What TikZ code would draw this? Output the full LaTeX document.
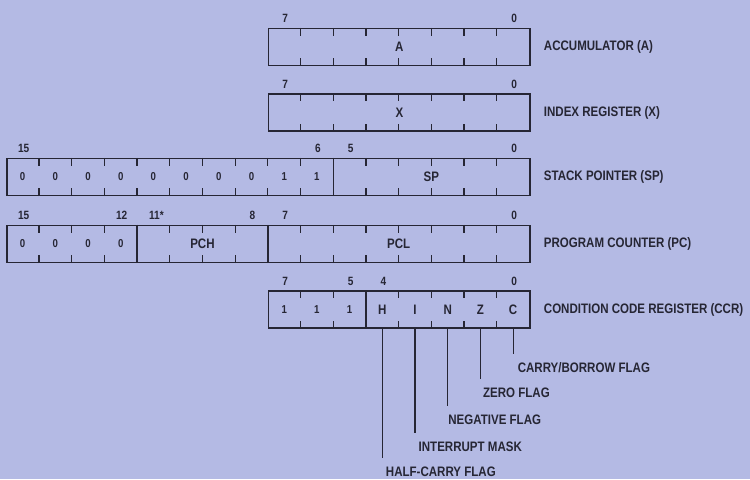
\documentclass[tikz,border=0pt]{standalone}
\usepackage{fontspec}
\setmainfont{Liberation Sans}[FakeStretch=0.84]
\usepackage{xcolor}
\usetikzlibrary{positioning,calc}
\definecolor{bgBlue}{RGB}{180,186,228}
\definecolor{ink}{RGB}{38,38,52}
\newcommand{\celw}{32.7}

\begin{document}
\begin{tikzpicture}[x=0.75pt,y=-0.75pt,font=\bfseries\fontsize{10.3}{12}\selectfont,color=ink,
  reg8/.style={draw, line width=1.1pt, minimum width=196.2pt, minimum height=27.75pt, inner sep=0pt},
  reg16/.style={reg8, minimum width=392.4pt},
  divider/.style={line width=1.1pt},
  tick/.style={line width=0.9pt},
  bitno/.style={font=\bfseries\fontsize{9}{10}\selectfont, inner sep=0pt},
  cell/.style={font=\bfseries\fontsize{8.6}{10}\selectfont, inner sep=0pt},
  side/.style={inner sep=0pt, outer sep=0pt},
  flaglab/.style={anchor=west, inner sep=0pt, outer sep=6.5pt, text height=7.6pt, text depth=0pt}]
\fill[bgBlue] (0,0) rectangle (750,479);
\useasboundingbox (0,0) rectangle (750,479);
% the five registers
\node[reg8]  (acc) at (399.4,47)    {A};
\node[reg8]  (idx) at (399.4,112.5) {X};
\node[reg16] (sp)  at (268.6,177)   {};
\node[reg16] (pc)  at (268.6,244)   {};
\node[reg8]  (ccr) at (399.4,309.5) {};
% short bit ticks, top and bottom
\foreach \r/\n in {acc/7,idx/7,ccr/7,sp/15,pc/15}
  \foreach \i in {1,...,\n}
    \draw[tick] ($(\r.north west)+(\i*\celw,0)$) -- ++(0,8)
                ($(\r.south west)+(\i*\celw,0)$) -- ++(0,-8);
% field dividers
\draw[divider] ($(sp.north west)+(10*\celw,0)$) -- ($(sp.south west)+(10*\celw,0)$);
\draw[divider] ($(pc.north west)+(4*\celw,0)$) -- ($(pc.south west)+(4*\celw,0)$);
\draw[divider] ($(pc.north west)+(8*\celw,0)$) -- ($(pc.south west)+(8*\celw,0)$);
\draw[divider] ($(ccr.north west)+(3*\celw,0)$) -- ($(ccr.south west)+(3*\celw,0)$);
% bit numbers
\foreach \r/\k/\b in {acc/0/7,acc/7/0,idx/0/7,idx/7/0,
    sp/0/15,sp/9/6,sp/10/5,sp/15/0,
    pc/0/15,pc/3/12,pc/7/8,pc/8/7,pc/15/0,
    ccr/0/7,ccr/2/5,ccr/3/4,ccr/7/0}
  \node[bitno] (\r-n\k) at ($(\r.north west)+(\k*\celw+\celw/2+1,-9)$) {\b};
\node[bitno] (pc-n4) at ($(pc.north west)+(4*\celw+\celw/2+3,-9)$) {11*};
% fixed bits
\foreach \k/\v in {0/0,1/0,2/0,3/0,4/0,5/0,6/0,7/0,8/1,9/1}
  \node[cell] (sp-c\k) at ($(sp.west)+(\k*\celw+\celw/2,0)$) {\v};
\foreach \k in {0,...,3}
  \node[cell] (pc-c\k) at ($(pc.west)+(\k*\celw+\celw/2,0)$) {0};
\foreach \k in {0,...,2}
  \node[cell] (ccr-c\k) at ($(ccr.west)+(\k*\celw+\celw/2,0)$) {1};
% field names
\node (spname)  at ($(sp.west)+(13*\celw,0)$) {SP};
\node (pchname) at ($(pc.west)+(6*\celw,0)$)  {PCH};
\node (pclname) at ($(pc.west)+(12*\celw,0)$) {PCL};
\foreach \k/\f in {3/H,4/I,5/N,6/Z,7/C} {
  \node (ccr-\f) at ($(ccr.west)+(\k*\celw+\celw/2,0)$) {\f};
  \coordinate (f\f) at ($(ccr.south west)+(\k*\celw+\celw/2,0)$);
}
% register names
\node[side, right=9.75pt of acc] (accname) {ACCUMULATOR (A)};
\node[side, right=9.75pt of idx] (idxname) {INDEX REGISTER (X)};
\node[side, right=9.75pt of sp]  (spreg)   {STACK POINTER (SP)};
\node[side, right=9.75pt of pc]  (pcreg)   {PROGRAM COUNTER (PC)};
\node[side, right=9.75pt of ccr] (ccrname) {CONDITION CODE REGISTER (CCR)};
% flag call-outs
\node[flaglab] (cLab) at ($(fC)+(-4,39)$)  {CARRY/BORROW FLAG};
\node[flaglab] (zLab) at ($(fZ)+(-6,64)$)  {ZERO FLAG};
\node[flaglab] (nLab) at ($(fN)+(-8,91)$)  {NEGATIVE FLAG};
\node[flaglab] (iLab) at ($(fI)+(-5,118)$) {INTERRUPT MASK};
\node[flaglab] (hLab) at ($(fH)+(-5,143)$) {HALF-CARRY FLAG};
\foreach \f/\l in {C/cLab,Z/zLab,N/nLab,I/iLab,H/hLab}
  \draw[tick] (f\f) -- (f\f |- \l.north);
\end{tikzpicture}
\end{document}
